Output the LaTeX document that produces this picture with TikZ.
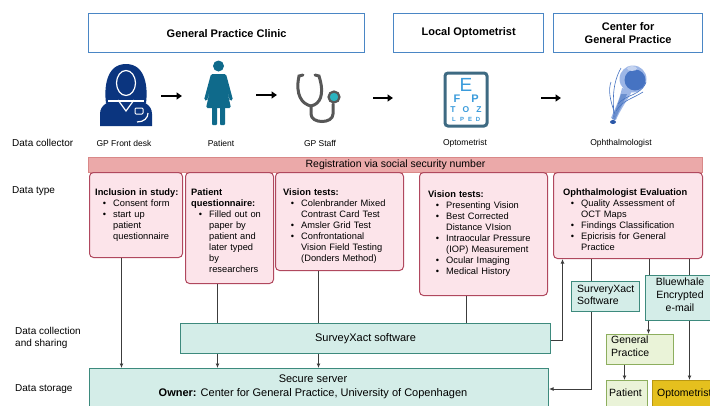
\documentclass[tikz,border=0pt]{standalone}
\usepackage{fontspec}
\setmainfont{Liberation Sans}
\usetikzlibrary{arrows.meta}

\definecolor{hdrblue}{HTML}{4A86C5}
\definecolor{regfill}{HTML}{EBA9A9}
\definecolor{regdraw}{HTML}{D98888}
\definecolor{pinkfill}{HTML}{FCE4EA}
\definecolor{pinkdraw}{HTML}{B0485E}
\definecolor{tealfill}{HTML}{D4EDE8}
\definecolor{tealdraw}{HTML}{3D8A7D}
\definecolor{greenfill}{HTML}{EAF3D8}
\definecolor{greendraw}{HTML}{8DAE5E}
\definecolor{yelfill}{HTML}{E5C01E}
\definecolor{yeldraw}{HTML}{B89713}
\definecolor{lineg}{HTML}{3C3C3C}
\definecolor{navy}{HTML}{0B357F}
\definecolor{pteal}{HTML}{0F6A8B}
\definecolor{stethgray}{HTML}{575757}
\definecolor{stethteal}{HTML}{2BB3BF}
\definecolor{chartframe}{HTML}{3E6A82}
\definecolor{chartblue}{HTML}{3A9BDB}
\definecolor{eyelight}{HTML}{9DB6E6}
\definecolor{eyeblue}{HTML}{4673C2}
\definecolor{eyedark}{HTML}{2B58A8}

% bullet item with hanging indent
\newcommand{\itm}[1]{\par{\leftskip=18pt\noindent\llap{\textbullet\hspace{7pt}}#1\par}}

\begin{document}
\begin{tikzpicture}[x=1pt,y=-1pt,
  hdr/.style={draw=hdrblue, line width=1.3pt, fill=white, anchor=north west,
    font=\fontsize{11}{13}\selectfont\bfseries, align=center, inner sep=0pt},
  pinkbox/.style={draw=pinkdraw, line width=1pt, fill=pinkfill, rounded corners=4pt,
    anchor=north west, inner sep=0pt},
  tealbox/.style={draw=tealdraw, line width=1pt, fill=tealfill, anchor=north west, inner sep=0pt},
  greenbox/.style={draw=greendraw, line width=1pt, fill=greenfill, anchor=north west, inner sep=0pt},
  yelbox/.style={draw=yeldraw, line width=1pt, fill=yelfill, anchor=north west, inner sep=0pt},
  boxtext/.style={anchor=north west, inner sep=0pt, align=left,
    font=\fontsize{9.3}{10.9}\selectfont},
  smalltext/.style={anchor=north west, inner sep=0pt, align=left,
    font=\fontsize{10.5}{13}\selectfont},
  rowlabel/.style={anchor=west, inner sep=0pt, align=left, font=\fontsize{10}{11.5}\selectfont},
  iconlabel/.style={inner sep=0pt, font=\fontsize{8.5}{10}\selectfont},
  conn/.style={draw=lineg, line width=0.9pt},
  arr/.style={conn, -{Latex[length=4.5pt,width=4pt]}},
  flowarr/.style={draw=black, line width=1.6pt, -{Triangle[length=5.5pt,width=7pt]}},
  chartletter/.style={text=chartblue, inner sep=0pt}
]
\useasboundingbox (0,0) rectangle (710,405);
\clip (0,0) rectangle (710,405);

% ---------- site headers ----------
\node[hdr, minimum width=276pt, minimum height=39pt] (h1) at (88,13) {General Practice Clinic};
\node[hdr, minimum width=150pt, minimum height=39pt] (h2) at (393,13) {Local Optometrist};
\node[hdr, minimum width=149pt, minimum height=39pt] (h3) at (553,13) {Center for\\General Practice};

% ---------- icons ----------
% GP front desk
\fill[navy] (100,126) -- (100,114) .. controls (100,104) and (110,101) .. (118,99) -- (134,99)
  .. controls (142,101) and (152,104) .. (152,114) -- (152,126) -- cycle;
\fill[navy] (106,103) .. controls (104,88) and (106,64) .. (126,64)
  .. controls (146,64) and (148,88) .. (146,103) -- cycle;
\draw[white, line width=1.2pt] (108,101) -- (144,101);
\filldraw[navy, draw=white, line width=1.2pt] (126,83) ellipse (9.5pt and 12.5pt);
\draw[white, line width=1.2pt] (118,100) -- (126,111) -- (134,100);
\draw[white, line width=1pt, rounded corners=1pt] (135,108) rectangle (143,114);
\draw[white, line width=1.2pt] (137,122) .. controls (144,122) and (148,118) .. (148,113);
\coordinate (ic1) at (126,95);

% Patient
\fill[pteal] (218.5,66) circle (5.5pt);
\fill[pteal, rounded corners=1.5pt] (211,74) -- (226,74) -- (233,100) -- (230,101) -- (226,86)
  -- (231,108) -- (206,108) -- (211,86) -- (207,101) -- (204,100) -- cycle;
\fill[pteal, rounded corners=1pt] (212,106) rectangle (217,125);
\fill[pteal, rounded corners=1pt] (220,106) rectangle (225,125);
\coordinate (ic2) at (218.5,95);

% Stethoscope
\begin{scope}[draw=stethgray, line width=3pt, line cap=round]
\draw (303,75) -- (299,76) .. controls (295,95) and (302,104) .. (311,106);
\draw (315,75) -- (319,76) .. controls (325,95) and (320,104) .. (311,106);
\draw (311,106) -- (311,114) .. controls (311,124) and (333,124) .. (333,114) -- (333,104);
\end{scope}
\filldraw[fill=stethteal, draw=stethgray, line width=2.2pt] (334,97) circle (5.5pt);
\coordinate (ic3) at (318,95);

% Eye chart
\draw[chartframe, line width=3pt, rounded corners=3pt] (445,73) rectangle (487,126);
\node[chartletter, font=\fontsize{19}{19}\selectfont] (ce) at (466,85) {E};
\node[chartletter, font=\fontsize{11}{11}\selectfont\bfseries] at (457,99) {F};
\node[chartletter, font=\fontsize{11}{11}\selectfont\bfseries] at (475,99) {P};
\node[chartletter, font=\fontsize{8.5}{9}\selectfont\bfseries] at (453,110) {T};
\node[chartletter, font=\fontsize{8.5}{9}\selectfont\bfseries] at (466,110) {O};
\node[chartletter, font=\fontsize{8.5}{9}\selectfont\bfseries] at (479,110) {Z};
\node[chartletter, font=\fontsize{6}{6}\selectfont\bfseries] at (454,119) {L};
\node[chartletter, font=\fontsize{6}{6}\selectfont\bfseries] at (462,119) {P};
\node[chartletter, font=\fontsize{6}{6}\selectfont\bfseries] at (470,119) {E};
\node[chartletter, font=\fontsize{6}{6}\selectfont\bfseries] at (478,119) {D};
\coordinate (ic4) at (466,98);

% Eye with optic nerve
\fill[eyelight] (622,88) .. controls (619,102) and (614,110) .. (611,118) -- (616,120)
  .. controls (620,110) and (627,101) .. (632,91) -- cycle;
\fill[eyeblue!80] (621,94) .. controls (618,104) and (615,111) .. (612,119) -- (615,120)
  .. controls (619,110) and (624,102) .. (627,94) -- cycle;
\fill[eyedark] (613,122) ellipse (3pt and 2pt);
\fill[eyelight] (633,79) circle (13.5pt);
\fill[eyeblue] (635,80) circle (10.5pt);
\fill[eyelight!60!white] (632,68.5) ellipse (5pt and 2.5pt);
\begin{scope}[draw=eyeblue, line width=0.6pt]
\draw (614,117) .. controls (613,100) and (612,84) .. (621,68);
\draw (616,111) .. controls (623,100) and (632,99) .. (643,92);
\draw (618,104) .. controls (626,94) and (641,96) .. (646,82);
\draw (615,114) .. controls (610,100) and (608,90) .. (611,82);
\end{scope}
\coordinate (ic5) at (627,98);

% arrows between collectors
\draw[flowarr] ([xshift=35pt,yshift=-1pt]ic1) -- ([xshift=56pt,yshift=-1pt]ic1);
\draw[flowarr] ([xshift=37.5pt]ic2) -- ([xshift=58.5pt]ic2);
\draw[flowarr] ([xshift=55pt,yshift=-3pt]ic3) -- ([xshift=75pt,yshift=-3pt]ic3);
\draw[flowarr] ([xshift=75pt]ic4) -- ([xshift=95pt]ic4);

% ---------- row labels ----------
\node[rowlabel] (rl1) at (12,143) {Data collector};
\node[rowlabel] (rl2) at (12,191) {Data type};
\node[rowlabel] (rl3) at (15,338) {Data collection\\and sharing};
\node[rowlabel] (rl4) at (15,389) {Data storage};

% ---------- collector labels ----------
\node[iconlabel] (l1) at (124,143) {GP Front desk};
\node[iconlabel] (l2) at (221,143) {Patient};
\node[iconlabel] (l3) at (320,143) {GP Staff};
\node[iconlabel] (l4) at (465,143) {Optometrist};
\node[iconlabel] (l5) at (621,143) {Ophthalmologist};

% ---------- registration bar ----------
\node[draw=regdraw, fill=regfill, line width=1pt, anchor=north west, inner sep=0pt,
  minimum width=614pt, minimum height=15pt, font=\fontsize{10.5}{12}\selectfont]
  (reg) at (88,157) {Registration via social security number};

% ---------- data type boxes ----------
\node[pinkbox, minimum width=93pt, minimum height=85pt] (inc) at (89,172) {};
\node[boxtext, text width=88pt] (inct) at (95,189) {\textbf{Inclusion in study:}
  \itm{Consent form}
  \itm{start up\newline patient\newline questionnaire}};

\node[pinkbox, minimum width=88pt, minimum height=111pt] (pq) at (185,172) {};
\node[boxtext, text width=84pt] (pqt) at (191,189) {\textbf{Patient\newline questionnaire:}
  \itm{Filled out on\newline paper by\newline patient and\newline later typed\newline by\newline researchers}};

\node[pinkbox, minimum width=128pt, minimum height=98pt] (vt1) at (275,172) {};
\node[boxtext, text width=122pt] (vt1t) at (283,189) {\textbf{Vision tests:}
  \itm{Colenbrander Mixed\newline Contrast Card Test}
  \itm{Amsler Grid Test}
  \itm{Confrontational\newline Vision Field Testing\newline (Donders Method)}};

\node[pinkbox, minimum width=128pt, minimum height=123pt] (vt2) at (419,172) {};
\node[boxtext, text width=122pt] (vt2t) at (428,191) {\textbf{Vision tests:}
  \itm{Presenting Vision}
  \itm{Best Corrected\newline Distance VIsion}
  \itm{Intraocular Pressure\newline (IOP) Measurement}
  \itm{Ocular Imaging}
  \itm{Medical History}};

\node[pinkbox, minimum width=149pt, minimum height=86pt] (oe) at (553,172) {};
\node[boxtext, text width=140pt] (oet) at (563,189) {\textbf{Ophthalmologist Evaluation}
  \itm{Quality Assessment of\newline OCT Maps}
  \itm{Findings Classification}
  \itm{Epicrisis for General\newline Practice}};

% ---------- collection / sharing ----------
\node[tealbox, minimum width=370pt, minimum height=30pt, font=\fontsize{11}{13}\selectfont]
  (sx) at (180,323) {SurveyXact software};

\node[tealbox, minimum width=68pt, minimum height=30pt] (sxs) at (571,281) {};
\node[smalltext, font=\fontsize{10.5}{12}\selectfont] (sxst) at (577,284.5) {SurveryXact\\Software};

\node[tealbox, minimum width=72pt, minimum height=45pt] (bw) at (645,275) {};
\node[smalltext, anchor=north, align=center] (bwt) at (680,277.5) {Bluewhale\\Encrypted\\e-mail};

\node[greenbox, minimum width=67pt, minimum height=30pt] (gp) at (606,334) {};
\node[smalltext] (gpt) at (611,336) {General\\Practice};

\node[greenbox, minimum width=41pt, minimum height=40pt] (pat) at (606,380) {};
\node[smalltext] (patt) at (609,389) {Patient};

\node[yelbox, minimum width=70pt, minimum height=40pt] (opt) at (652,380) {};
\node[smalltext] (optt) at (657,389) {Optometrist};

% ---------- storage ----------
\node[tealbox, minimum width=459pt, minimum height=50pt] (srv) at (89,368) {};
\node[inner sep=0pt, align=center, anchor=north, font=\fontsize{11}{13.5}\selectfont]
  (srvt) at (313,375) {Secure server\\\textbf{Owner:} Center for General Practice, University of Copenhagen};

% ---------- connectors ----------
\draw[arr] ([xshift=-14.5pt]inc.south) -- ([xshift=-14.5pt]inc.south |- srv.north);
\draw[conn] ([xshift=-12pt]pq.south) -- ([xshift=-12pt]pq.south |- sx.north);
\draw[arr] ([xshift=-12pt]pq.south |- sx.south) -- ([xshift=-12pt]pq.south |- srv.north);
\draw[conn] ([xshift=-21pt]vt1.south) -- ([xshift=-21pt]vt1.south |- sx.north);
\draw[arr] ([xshift=-21pt]vt1.south |- sx.south) -- ([xshift=-21pt]vt1.south |- srv.north);
\draw[conn] ([xshift=-17pt]vt2.south) -- ([xshift=-17pt]vt2.south |- sx.north);
\draw[arr] ([yshift=-2pt]sx.east) -| ([xshift=-65.5pt]oe.south);
\draw[conn] ([xshift=-36.5pt]oe.south) -- ([xshift=-36.5pt]oe.south |- sxs.north);
\draw[arr] ([xshift=-14pt]sxs.south) |- ([yshift=-21pt]srv.north east);
\draw[conn] ([xshift=21.5pt]oe.south) -- ([xshift=21.5pt]oe.south |- bw.north);
\draw[conn] ([xshift=61.5pt]oe.south) -- ([xshift=61.5pt]oe.south |- bw.north);
\draw[arr] ([xshift=-33pt]bw.south) -- ([xshift=-33pt]bw.south |- gp.north);
\draw[arr] ([xshift=8pt]bw.south) -- ([xshift=8pt]bw.south |- opt.north);
\draw[arr] ([xshift=-15.5pt]gp.south) -- ([xshift=-15.5pt]gp.south |- pat.north);
\end{tikzpicture}
\end{document}
